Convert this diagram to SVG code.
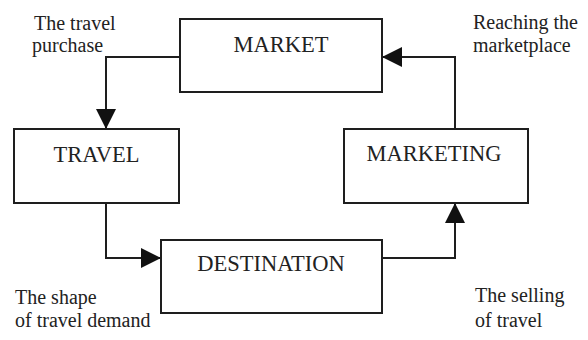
<svg xmlns="http://www.w3.org/2000/svg" width="588" height="340" viewBox="0 0 588 340">
<style>
.box{fill:#fff;stroke:#1e1e1e;stroke-width:2}
.node{font-family:"Liberation Serif","Times New Roman",serif;font-size:22.5px;fill:#222;text-anchor:middle}
.lbl{font-family:"Liberation Serif","Times New Roman",serif;font-size:20px;fill:#222}
.conn{fill:none;stroke:#1e1e1e;stroke-width:2;marker-end:url(#arr)}
</style>
<defs>
<marker id="arr" markerUnits="userSpaceOnUse" markerWidth="20" markerHeight="20" viewBox="0 0 20 20" refX="19" refY="10" orient="auto">
<path d="M0,0 L20,10 L0,20 Z" fill="#111"/>
</marker>
</defs>
<rect width="588" height="340" fill="#fff"/>
<g id="connectors">
<path class="conn" d="M180,57 H106 V128"/>
<path class="conn" d="M106,203 V258 H160"/>
<path class="conn" d="M382,258 H455 V204"/>
<path class="conn" d="M455,129 V57 H383"/>
</g>
<g id="market"><rect class="box" x="180" y="19" width="202" height="73"/><text class="node" x="281" y="52">MARKET</text></g>
<g id="travel"><rect class="box" x="14" y="129" width="165" height="74"/><text class="node" x="96.5" y="162">TRAVEL</text></g>
<g id="destination"><rect class="box" x="161" y="240" width="221" height="73"/><text class="node" x="271" y="271">DESTINATION</text></g>
<g id="marketing"><rect class="box" x="344" y="129" width="184" height="74"/><text class="node" x="434" y="161">MARKETING</text></g>
<g id="labels">
<text class="lbl" x="34" y="30">The travel</text>
<text class="lbl" x="32" y="52">purchase</text>
<text class="lbl" x="473" y="29">Reaching the</text>
<text class="lbl" x="473" y="52">marketplace</text>
<text class="lbl" x="15" y="304">The shape</text>
<text class="lbl" x="15" y="327">of travel demand</text>
<text class="lbl" x="475" y="302">The selling</text>
<text class="lbl" x="475" y="327">of travel</text>
</g>
</svg>
